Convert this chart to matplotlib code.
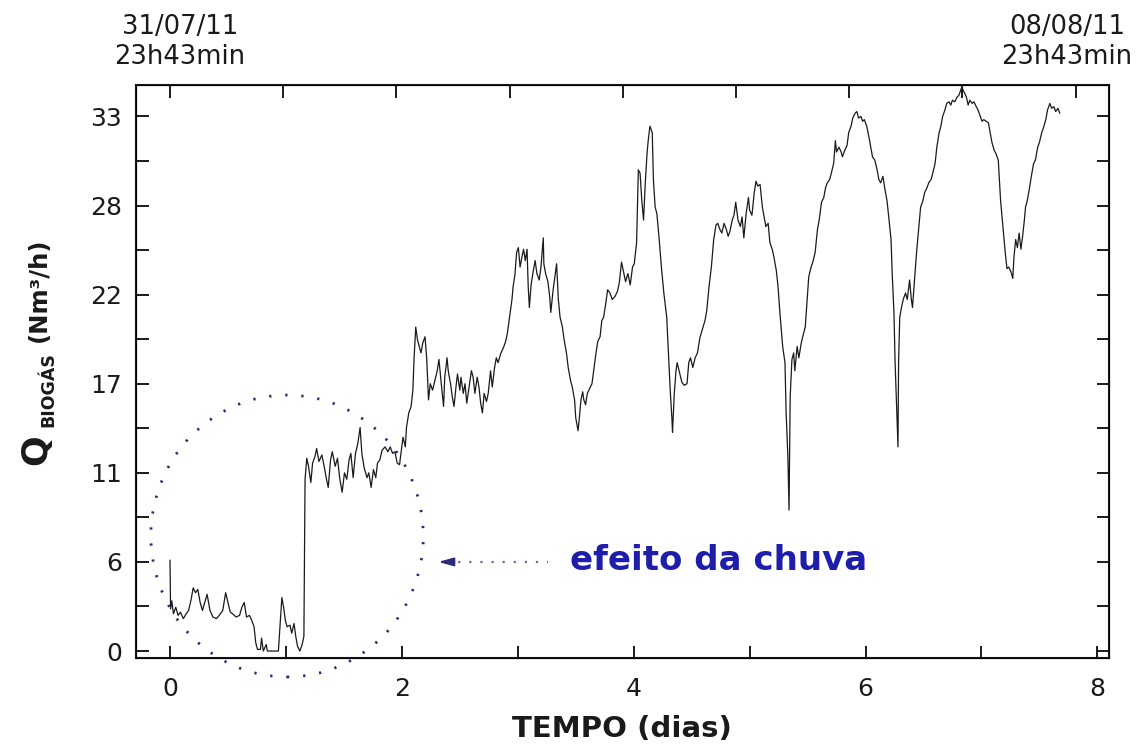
import matplotlib
matplotlib.use('Agg')
import matplotlib.pyplot as plt
from matplotlib.patches import Ellipse

plt.rcParams['font.family'] = ['DejaVu Sans']

# vazão de biogás (Nm3/h) ao longo do tempo (dias), lida por trechos
t_a = [0.000, 0.005, 0.015, 0.03, 0.05, 0.07, 0.09, 0.115, 0.14, 0.16,
       0.18, 0.20, 0.22, 0.24, 0.26, 0.28, 0.30, 0.32, 0.345, 0.37,
       0.40, 0.425, 0.455, 0.48, 0.50, 0.52, 0.54, 0.57, 0.60, 0.62,
       0.64, 0.66, 0.685, 0.705, 0.725, 0.74, 0.755, 0.78, 0.79, 0.805,
       0.83, 0.84, 0.935, 0.95, 0.965, 0.98, 0.995, 1.01, 1.035, 1.05,
       1.07, 1.085, 1.10, 1.12, 1.14, 1.155, 1.165, 1.18, 1.195, 1.215,
       1.23, 1.25, 1.265, 1.285, 1.31, 1.33, 1.35, 1.365, 1.385, 1.40,
       1.425, 1.445, 1.465, 1.485, 1.505, 1.525, 1.545, 1.56, 1.58, 1.60,
       1.62, 1.64, 1.655, 1.675, 1.70, 1.715, 1.735, 1.755, 1.775, 1.79,
       1.81, 1.83, 1.855, 1.88, 1.90, 1.92, 1.94, 1.96, 1.98, 2.00,
       2.01, 2.03, 2.04, 2.06]
q_a = [5.6, 2.6, 3.1, 2.3, 2.7, 2.2, 2.4, 2.0, 2.3, 2.5,
       3.1, 3.9, 3.6, 3.8, 3.0, 2.5, 3.0, 3.5, 2.5, 2.1,
       2.0, 2.2, 2.5, 3.6, 3.0, 2.4, 2.3, 2.1, 2.2, 2.7,
       3.0, 2.1, 2.2, 1.9, 1.5, 0.5, 0.1, 0.1, 0.8, 0.0,
       0.4, 0.0, 0.0, 1.7, 3.3, 2.7, 1.9, 1.5, 1.6, 1.1,
       1.7, 0.9, 0.3, 0.0, 0.4, 0.9, 10.6, 11.9, 11.4, 10.4,
       11.6, 12.0, 12.5, 11.7, 12.1, 11.4, 10.6, 10.1, 11.8, 12.3,
       11.4, 11.9, 10.6, 9.8, 11.0, 10.6, 11.8, 12.2, 10.7, 12.2,
       12.8, 13.8, 12.2, 11.3, 10.7, 11.0, 10.1, 11.2, 10.7, 11.6,
       11.8, 12.4, 12.6, 12.3, 12.6, 12.2, 12.3, 11.6, 11.5, 12.6,
       13.2, 12.6, 13.8, 14.7]

t_b = [2.08, 2.095, 2.105, 2.12, 2.135, 2.15, 2.165, 2.18, 2.20, 2.215,
       2.23, 2.245, 2.265, 2.285, 2.305, 2.32, 2.34, 2.36, 2.37, 2.39,
       2.40, 2.42, 2.435, 2.45, 2.47, 2.48, 2.50, 2.51, 2.53, 2.545,
       2.56, 2.58, 2.60, 2.615, 2.63, 2.65, 2.665, 2.68, 2.695, 2.71,
       2.73, 2.745, 2.765, 2.78, 2.80, 2.815, 2.83, 2.855, 2.875, 2.895,
       2.91, 2.935, 2.95, 2.96, 2.975, 2.99, 3.005, 3.02, 3.035, 3.05,
       3.065, 3.08, 3.09, 3.10, 3.115, 3.13, 3.15, 3.165, 3.185, 3.20,
       3.22, 3.225, 3.24, 3.26, 3.275, 3.285, 3.305, 3.32, 3.335, 3.35,
       3.365, 3.385, 3.40, 3.42, 3.435, 3.455, 3.47, 3.49, 3.50, 3.52,
       3.53, 3.545, 3.56, 3.57, 3.585, 3.60, 3.62, 3.64, 3.655, 3.675,
       3.69, 3.71, 3.725, 3.74, 3.76, 3.775, 3.795, 3.815, 3.84, 3.86,
       3.875, 3.895, 3.915, 3.93, 3.95, 3.97, 3.99, 4.005]
q_b = [15.1, 16.1, 18.0, 20.0, 19.2, 18.8, 18.4, 19.0, 19.4, 18.0,
       15.5, 16.5, 16.1, 16.7, 17.3, 18.0, 16.5, 15.1, 16.9, 18.1,
       17.3, 16.5, 15.7, 15.1, 16.5, 17.1, 16.1, 16.9, 15.9, 16.5,
       15.3, 16.3, 17.3, 16.9, 15.9, 16.9, 16.3, 15.3, 14.7, 15.9,
       15.4, 15.9, 17.3, 16.3, 17.5, 18.1, 17.8, 18.4, 18.7, 19.1,
       19.6, 20.9, 21.7, 22.5, 23.2, 24.6, 24.9, 23.7, 24.3, 24.8,
       24.1, 24.8, 22.5, 21.2, 22.6, 23.3, 24.1, 23.3, 22.9, 23.7,
       25.5, 23.9, 23.3, 22.8, 21.9, 20.9, 22.3, 23.1, 23.9, 21.7,
       20.6, 20.0, 19.2, 18.4, 17.5, 16.7, 16.3, 15.5, 14.4, 13.6,
       14.3, 15.5, 16.0, 15.5, 15.2, 15.9, 16.2, 16.5, 17.3, 18.4,
       19.1, 19.4, 20.4, 20.6, 21.5, 22.3, 22.1, 21.7, 21.9, 22.2,
       22.7, 24.0, 23.3, 22.8, 23.3, 22.6, 23.7, 23.9]

t_c = [4.025, 4.04, 4.055, 4.07, 4.085, 4.10, 4.115, 4.125, 4.14, 4.16,
       4.17, 4.185, 4.20, 4.22, 4.24, 4.26, 4.285, 4.30, 4.315, 4.33,
       4.335, 4.35, 4.365, 4.375, 4.395, 4.415, 4.435, 4.46, 4.475, 4.49,
       4.51, 4.53, 4.55, 4.57, 4.59, 4.615, 4.63, 4.65, 4.67, 4.69,
       4.71, 4.725, 4.745, 4.76, 4.78, 4.80, 4.815, 4.83, 4.85, 4.865,
       4.88, 4.90, 4.92, 4.935, 4.95, 4.97, 4.99, 5.00, 5.02, 5.04,
       5.055, 5.07, 5.09, 5.11, 5.125, 5.14, 5.16, 5.175, 5.195, 5.21,
       5.23, 5.245]
q_c = [25.2, 29.7, 29.5, 27.8, 26.6, 28.9, 30.7, 31.5, 32.4, 32.0,
       29.1, 27.4, 27.0, 25.4, 23.6, 22.1, 20.6, 18.4, 16.1, 14.3,
       13.5, 15.9, 17.3, 17.8, 17.2, 16.6, 16.4, 16.5, 17.8, 18.1,
       17.5, 18.1, 18.4, 19.3, 19.8, 20.4, 21.0, 22.5, 23.7, 25.4,
       26.3, 26.4, 26.0, 25.8, 26.4, 26.0, 25.6, 25.9, 26.6, 26.9,
       27.7, 26.6, 26.2, 26.8, 25.5, 27.0, 28.0, 27.2, 26.9, 28.3,
       29.0, 28.7, 28.8, 27.4, 26.8, 26.2, 26.4, 25.2, 24.8, 24.3,
       23.5, 22.5]

t_d = [5.26, 5.285, 5.305, 5.315, 5.33, 5.34, 5.35, 5.365, 5.38, 5.39,
       5.41, 5.425, 5.445, 5.465, 5.48, 5.50, 5.51, 5.53, 5.545, 5.565,
       5.585, 5.60, 5.62, 5.64, 5.655, 5.67, 5.69, 5.705, 5.725, 5.74,
       5.75, 5.77, 5.79, 5.80, 5.82, 5.84, 5.855, 5.875, 5.89, 5.91,
       5.925, 5.94, 5.96, 5.975, 5.99, 6.01, 6.03, 6.045, 6.06, 6.08,
       6.10, 6.115, 6.13, 6.15, 6.165, 6.185, 6.20, 6.22, 6.23, 6.245,
       6.255, 6.27, 6.28, 6.285, 6.295, 6.31, 6.325, 6.345, 6.36, 6.38,
       6.395, 6.405, 6.425, 6.44, 6.46, 6.475, 6.495, 6.51, 6.53, 6.545,
       6.565, 6.58, 6.60, 6.615, 6.635, 6.65, 6.665, 6.685, 6.70, 6.72,
       6.735, 6.75, 6.77, 6.79, 6.805, 6.82, 6.83, 6.85, 6.87, 6.885,
       6.90, 6.92, 6.935, 6.955, 6.97, 6.99, 7.005, 7.02, 7.04, 7.06,
       7.075, 7.09, 7.11, 7.125, 7.145, 7.155, 7.165, 7.18, 7.19, 7.205,
       7.22, 7.235, 7.255, 7.27, 7.28, 7.295, 7.31, 7.325, 7.34, 7.355,
       7.37, 7.38, 7.395, 7.415, 7.43, 7.45, 7.465, 7.485, 7.50, 7.52,
       7.535, 7.555, 7.57, 7.59, 7.605, 7.625, 7.64, 7.66, 7.675]
q_d = [21.0, 18.8, 17.8, 14.7, 12.0, 8.7, 15.7, 18.0, 18.4, 17.3,
       18.8, 18.1, 19.0, 19.6, 20.0, 22.1, 23.1, 23.7, 24.0, 24.6,
       26.0, 26.6, 27.7, 28.0, 28.6, 28.9, 29.1, 29.5, 30.1, 31.5,
       30.8, 31.1, 30.8, 30.5, 30.9, 31.2, 32.0, 32.4, 32.9, 33.2,
       33.3, 32.9, 33.0, 32.7, 32.8, 32.4, 31.7, 31.1, 30.5, 30.3,
       29.7, 29.1, 28.9, 29.3, 28.6, 27.8, 26.8, 25.4, 23.3, 20.9,
       17.8, 14.7, 12.6, 17.8, 20.6, 21.2, 21.7, 22.1, 21.7, 22.9,
       21.7, 21.2, 23.1, 24.6, 26.2, 27.4, 27.8, 28.3, 28.6, 28.9,
       29.1, 29.5, 30.1, 31.1, 32.0, 32.4, 33.0, 33.4, 33.8, 33.9,
       33.7, 34.0, 33.9, 34.2, 34.3, 34.6, 34.8, 34.5, 34.2, 33.7,
       34.0, 33.8, 33.9, 33.6, 33.4, 33.0, 32.7, 32.8, 32.7, 32.6,
       32.0, 31.4, 30.9, 30.7, 30.3, 29.1, 27.8, 26.6, 25.8, 24.6,
       23.6, 23.7, 23.4, 23.0, 24.3, 25.4, 24.9, 25.8, 24.8, 25.6,
       26.6, 27.4, 27.8, 28.6, 29.3, 30.1, 30.3, 31.1, 31.4, 32.0,
       32.3, 32.8, 33.4, 33.8, 33.5, 33.6, 33.3, 33.5, 33.2]

tempo = t_a + t_b + t_c + t_d
vazao = q_a + q_b + q_c + q_d
if len(tempo) != len(vazao):
    raise ValueError('tempo e vazao com tamanhos diferentes')

# eixos
x_major = [0, 2, 4, 6, 8]
x_minor = [1, 3, 5, 7]
y_major = [0, 5.5, 11, 16.5, 22, 27.5, 33]
y_labels = ['0', '6', '11', '17', '22', '28', '33']
y_minor = [2.75, 8.25, 13.75, 19.25, 24.75, 30.25]
top_ticks = [0, 1, 2, 3, 4, 5, 6, 7, 8]

# círculo e seta do "efeito da chuva"
chuva_centro = (1.01, 7.1)
chuva_larg, chuva_alt = 2.35, 17.4
seta_ponta = (2.29, 5.5)
seta_cauda = (3.26, 5.5)

preto = '#1a1a1a'
azul_txt = '#1e1eaa'
azul_pontos = '#2a2a78'

fig = plt.figure(figsize=(11.46, 7.44), dpi=100)
ax = fig.add_axes([0.1187, 0.1156, 0.849, 0.7702])

ax.plot(tempo, vazao, color=preto, lw=0.9)

ax.set_xlim(-0.293, 8.10)
ax.set_ylim(-0.43, 34.94)
ax.set_xticks(x_major)
ax.set_xticks(x_minor, minor=True)
ax.set_yticks(y_major)
ax.set_yticklabels(y_labels)
ax.set_yticks(y_minor, minor=True)

ax.tick_params(which='both', direction='in', length=9, width=1.4,
               right=True, top=False, colors=preto, labelsize=18)
ax.tick_params(axis='x', which='both', pad=14)
ax.tick_params(axis='y', which='both', pad=10)
for s in ax.spines.values():
    s.set_linewidth(1.5)
    s.set_color(preto)

# eixo superior (datas)
ax_top = ax.twiny()
ax_top.set_xlim(-0.300, 8.295)
ax_top.set_xticks(top_ticks)
ax_top.tick_params(axis='x', direction='in', length=9, width=1.4,
                   labeltop=False, colors=preto)

circ = Ellipse(chuva_centro, chuva_larg, chuva_alt, fill=False,
               edgecolor=azul_pontos, lw=2.0, linestyle=(0, (0.8, 5.0)),
               clip_on=False)
ax.add_patch(circ)

ax.plot([seta_ponta[0] + 0.1, seta_cauda[0]], [seta_ponta[1], seta_cauda[1]],
        color='#6a6aa8', lw=1.6, linestyle=(0, (1, 4)))
ax.annotate('', xy=seta_ponta, xytext=(seta_ponta[0] + 0.14, seta_ponta[1]),
            arrowprops=dict(arrowstyle='-|>,head_length=0.9,head_width=0.25',
                            color=azul_pontos, lw=1.4))
ax.text(3.45, 5.0, 'efeito da chuva', color=azul_txt, fontsize=24.5,
        fontweight='bold', ha='left', va='baseline')

# rótulos
fig.text(0.543, 1 - 737 / 744, 'TEMPO (dias)', fontsize=21, fontweight='bold',
         color=preto, ha='center', va='baseline')
fig.text(46 / 1146, 1 - 450 / 744, 'Q', fontsize=26, fontweight='bold',
         color=preto, rotation=90, rotation_mode='anchor', ha='center', va='baseline')
fig.text(53 / 1146, 1 - 390 / 744, 'BIOGÁS', fontsize=12.5, fontweight='bold',
         color=preto, rotation=90, rotation_mode='anchor', ha='center', va='baseline')
fig.text(46 / 1146, 1 - 290 / 744, '(Nm³/h)', fontsize=17.5, fontweight='bold',
         color=preto, rotation=90, rotation_mode='anchor', ha='center', va='baseline')

fig.text(180 / 1146, 1 - 14 / 744, '31/07/11\n23h43min', fontsize=18.5,
         color=preto, ha='center', va='top', linespacing=1.2)
fig.text(1067 / 1146, 1 - 14 / 744, '08/08/11\n23h43min', fontsize=18.5,
         color=preto, ha='center', va='top', linespacing=1.2)

fig.savefig('out.png', dpi=100)
